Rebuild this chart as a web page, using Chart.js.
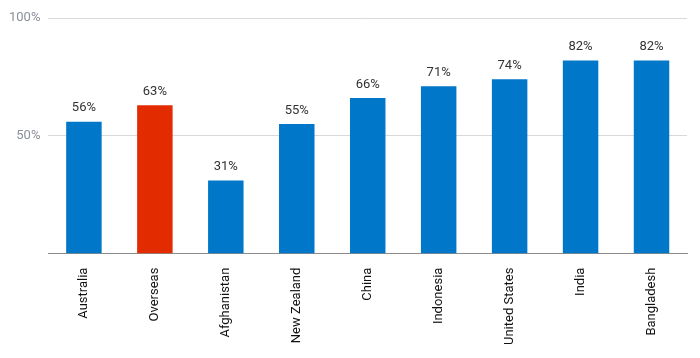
<!DOCTYPE html>
<html><head><meta charset="utf-8">
<script src="https://cdn.jsdelivr.net/npm/chart.js@4"></script>
<style>html,body{margin:0;padding:0;background:#fff}#wrap{width:700px;height:358px}</style>
</head><body><div id="wrap"><canvas id="c"></canvas></div>
<script>
const categories = ["Australia","Overseas","Afghanistan","New Zealand","China","Indonesia","United States","India","Bangladesh"];
const values = [56,63,31,55,66,71,74,82,82];
const barColors = ["#0077c8","#e32b00","#0077c8","#0077c8","#0077c8","#0077c8","#0077c8","#0077c8","#0077c8"];
const yTicks = [0,50,100];

const labelPlugin = {
  id:'barLabels',
  afterDatasetsDraw(chart){
    const ctx = chart.ctx;
    const meta = chart.getDatasetMeta(0);
    ctx.save();
    ctx.font = '13px Roboto, "Open Sans", sans-serif';
    ctx.fillStyle = '#333';
    ctx.textAlign = 'center';
    ctx.textBaseline = 'bottom';
    meta.data.forEach((bar,i)=>{
      ctx.fillText(values[i]+'%', bar.x, bar.y - 7);
    });
    ctx.restore();
  }
};

new Chart(document.getElementById('c'),{
  type:'bar',
  data:{labels:categories,datasets:[{data:values,backgroundColor:barColors,barPercentage:0.5,categoryPercentage:1}]},
  options:{
    responsive:true,maintainAspectRatio:false,animation:false,
    layout:{padding:{top:18,right:13,left:1,bottom:7}},
    plugins:{legend:{display:false},tooltip:{enabled:false}},
    scales:{
      x:{
        grid:{display:false},
        border:{display:true,color:'#8c8c8c',width:1},
        ticks:{minRotation:90,maxRotation:90,color:'#111',padding:6,font:{size:13,family:'Roboto, "Open Sans", sans-serif'}}
      },
      y:{
        min:0,max:100,
        afterBuildTicks(axis){axis.ticks = yTicks.map(v=>({value:v}));},
        grid:{drawTicks:false,color:(c)=>c.tick && c.tick.value===0 ? '#8c8c8c' : '#d9d9d9'},
        border:{display:false},
        ticks:{padding:8,color:'#8a8f99',font:{size:13,family:'Roboto, "Open Sans", sans-serif'},callback:(v)=> v===0 ? '' : v+'%'}
      }
    }
  },
  plugins:[labelPlugin]
});
</script></body></html>
